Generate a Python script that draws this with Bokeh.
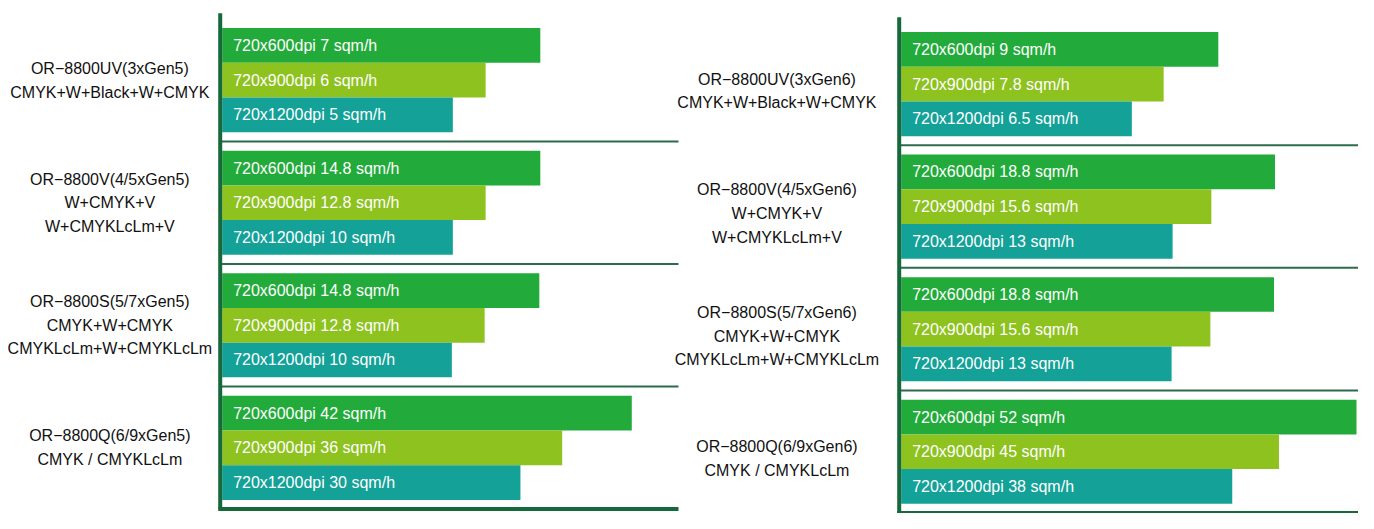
from bokeh.plotting import figure
from bokeh.models import Range1d, ColumnDataSource
from bokeh.embed import file_html
from bokeh.resources import INLINE
from bokeh.core.properties import value

# ---------------- data ----------------
resolutions = ["720x600dpi", "720x900dpi", "720x1200dpi"]

left_models = [
    ["OR−8800UV(3xGen5)", "CMYK+W+Black+W+CMYK"],
    ["OR−8800V(4/5xGen5)", "W+CMYK+V", "W+CMYKLcLm+V"],
    ["OR−8800S(5/7xGen5)", "CMYK+W+CMYK", "CMYKLcLm+W+CMYKLcLm"],
    ["OR−8800Q(6/9xGen5)", "CMYK / CMYKLcLm"],
]
left_speeds = [["7", "6", "5"], ["14.8", "12.8", "10"], ["14.8", "12.8", "10"], ["42", "36", "30"]]
left_bar_len = [[320, 265, 232], [320, 265, 232], [319, 264, 231], [412, 342, 300]]

right_models = [
    ["OR−8800UV(3xGen6)", "CMYK+W+Black+W+CMYK"],
    ["OR−8800V(4/5xGen6)", "W+CMYK+V", "W+CMYKLcLm+V"],
    ["OR−8800S(5/7xGen6)", "CMYK+W+CMYK", "CMYKLcLm+W+CMYKLcLm"],
    ["OR−8800Q(6/9xGen6)", "CMYK / CMYKLcLm"],
]
right_speeds = [["9", "7.8", "6.5"], ["18.8", "15.6", "13"], ["18.8", "15.6", "13"], ["52", "45", "38"]]
right_bar_len = [[319, 264, 232], [376, 312, 273], [375, 311, 272], [458, 380, 333]]

bar_colors = ["#22AB3A", "#8DC21F", "#13A198"]
line_color = "#16693A"
sep_color = "#2C6B4C"
FONT = value("Liberation Sans")

W, H = 1358, 513
p = figure(width=W, height=H, output_backend="svg", toolbar_location=None,
           x_range=Range1d(0, 1366), y_range=Range1d(520, 0),
           min_border=0, outline_line_color=None)
p.axis.visible = False
p.grid.visible = False
p.background_fill_color = "white"

panels = [
    dict(models=left_models, speeds=left_speeds, lens=left_bar_len,
         axis_x=221, bar_x=223, top0=28, line_end=682, label_x=110, label_dy=0),
    dict(models=right_models, speeds=right_speeds, lens=right_bar_len,
         axis_x=904, bar_x=906, top0=32, line_end=1366, label_x=781, label_dy=7),
]
pitch = 124.2
bar_h = 35.2
sep_off = 114.8

for pn in panels:
    ys, lefts, rights, cols, txt, tx = [], [], [], [], [], []
    for g, (lens, sp) in enumerate(zip(pn["lens"], pn["speeds"])):
        gtop = pn["top0"] + g * pitch
        for k in range(3):
            ys.append(gtop + bar_h * (k + 0.5))
            lefts.append(pn["bar_x"])
            rights.append(pn["bar_x"] + lens[k])
            cols.append(bar_colors[k])
            txt.append(f"{resolutions[k]} {sp[k]} sqm/h")
            tx.append(pn["bar_x"] + 11)
    src = ColumnDataSource(dict(y=ys, left=lefts, right=rights, color=cols, text=txt, tx=tx))
    p.hbar(y="y", left="left", right="right", height=bar_h, fill_color="color",
           line_color=None, source=src)
    p.text(x="tx", y="y", text="text", source=src, text_color="white",
           text_font=FONT, text_font_size="16px", text_baseline="middle", text_align="left")

    # separators
    sx0, sx1, sy = [], [], []
    for g in range(3):
        y = pn["top0"] + g * pitch + sep_off
        sx0.append(pn["axis_x"]); sx1.append(pn["line_end"]); sy.append(y)
    p.segment(x0=sx0, y0=sy, x1=sx1, y1=sy, line_color=sep_color, line_width=2)
    # bottom line
    yb = pn["top0"] + 3 * pitch + sep_off
    p.segment(x0=[pn["axis_x"] - 2], y0=[yb], x1=[pn["line_end"]], y1=[yb],
              line_color=line_color, line_width=4)
    # vertical axis line
    p.segment(x0=[pn["axis_x"]], y0=[pn["top0"] - 15], x1=[pn["axis_x"]], y1=[yb],
              line_color=line_color, line_width=4)

    # model labels
    lx, ly, lt = [], [], []
    for g, lines in enumerate(pn["models"]):
        center = pn["top0"] + g * pitch + 1.5 * bar_h + pn["label_dy"]
        n = len(lines)
        for i, t in enumerate(lines):
            lx.append(pn["label_x"])
            ly.append(center + (i - (n - 1) / 2) * 24)
            lt.append(t)
    p.text(x=lx, y=ly, text=lt, text_color="#111111", text_font=FONT,
           text_font_size="16px", text_baseline="middle", text_align="center")

open("out.html", "w").write(file_html(p, INLINE))
